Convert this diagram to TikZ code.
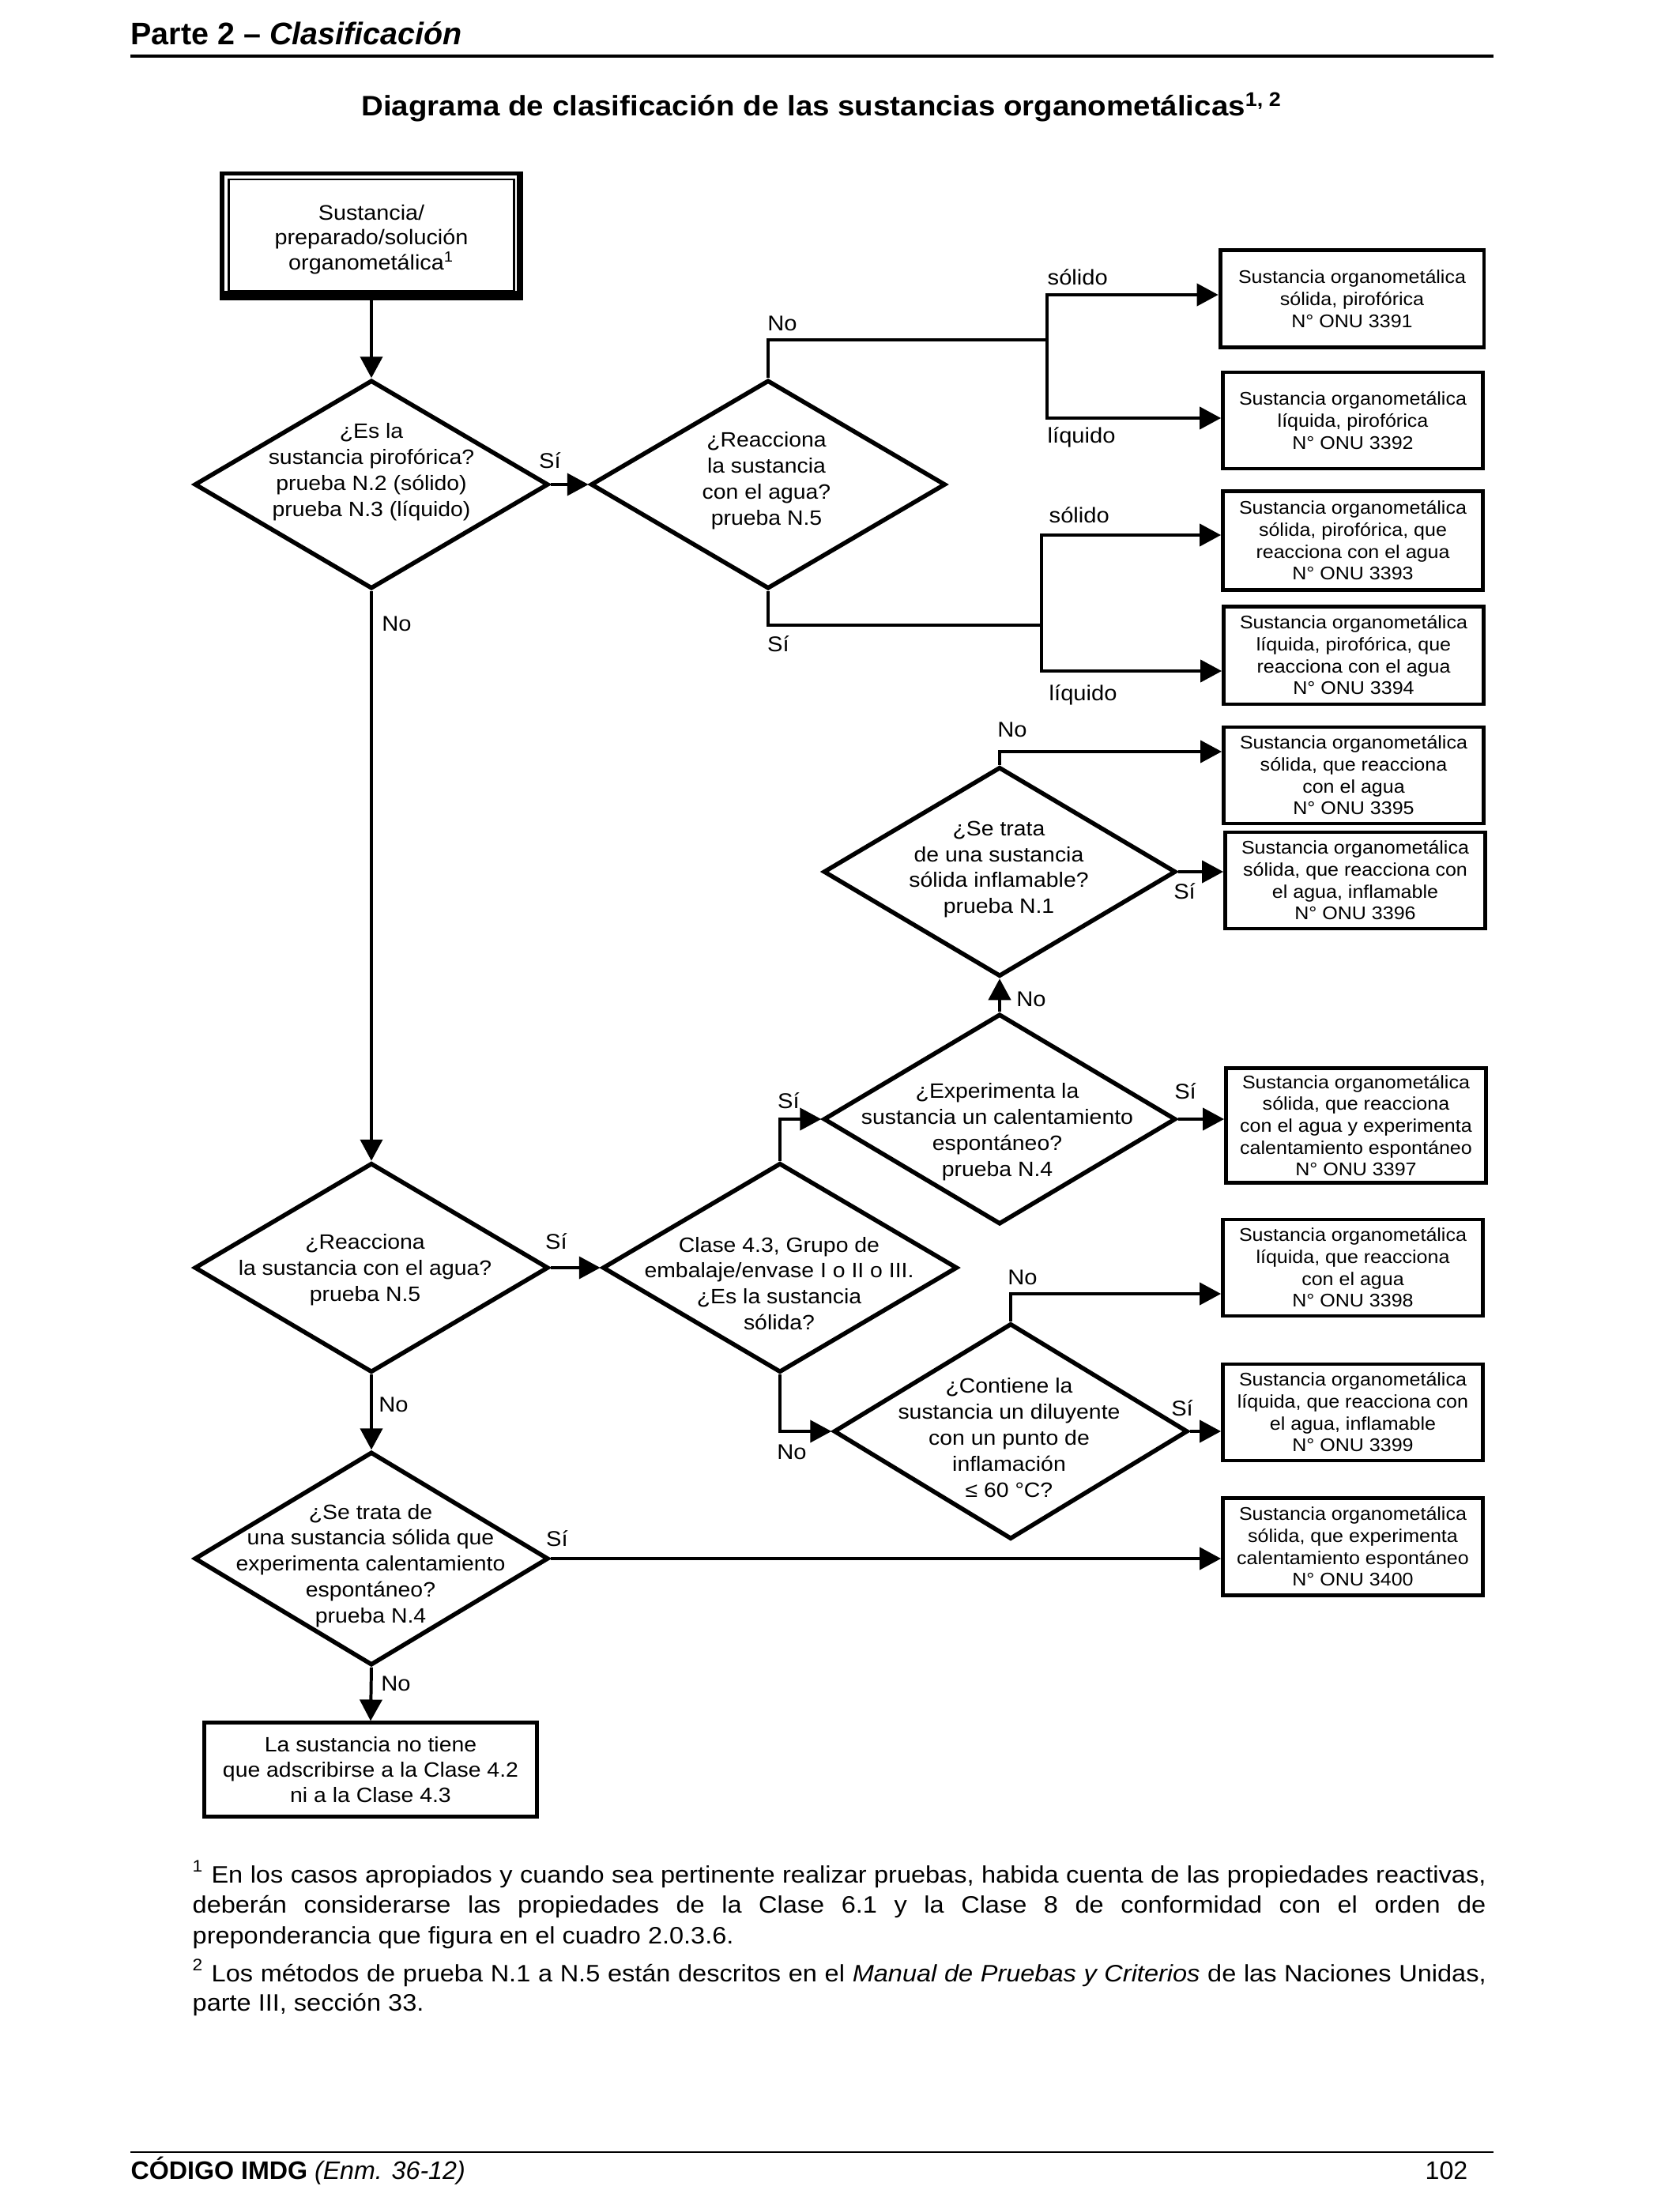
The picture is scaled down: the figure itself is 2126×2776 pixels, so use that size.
\documentclass[tikz,border=0pt]{standalone}
\usepackage{fontspec}
\setmainfont[FakeStretch=1.08]{Liberation Sans}
\newfontfamily\plainfont{Liberation Sans}
\usetikzlibrary{arrows.meta,shapes.geometric}
\tikzset{
  conn/.style={line width=1.15pt},
  arr/.style={line width=1.15pt,-{Triangle[length=7.8pt,width=8.1pt]}},
  dia/.style={diamond,draw,line width=1.6pt,inner sep=0pt,minimum width=129.5pt,minimum height=76.3pt},
  dtext/.style={align=center,inner sep=0pt,font=\fontsize{7.6}{9.5}\selectfont},
  onu/.style={rectangle,draw,line width=1.4pt,inner sep=0pt,align=center,minimum width=95.1pt,minimum height=35.3pt,font=\fontsize{6.7}{8.0}\selectfont},
  lbl/.style={inner sep=0pt,font=\fontsize{7.8}{9}\selectfont,text height=5.6pt,text depth=0pt},
  fnline/.style={anchor=base west,inner sep=0pt,font=\fontsize{8.7}{10.7}\selectfont},
}
\begin{document}
\begin{tikzpicture}[x=0.28908pt,y=-0.28908pt]
\useasboundingbox (0,0) rectangle (2126,2776);

% header
\node[anchor=base west,inner sep=0pt,font=\plainfont\fontsize{11.4}{13}\selectfont\bfseries] (hdr) at (165,56.7) {Parte 2 – \textit{Clasificación}};
\draw[line width=1pt] (165,71) -- (1890,71);
\node[anchor=base,inner sep=0pt,font=\fontsize{10.3}{12}\selectfont\bfseries] (title) at (1040,146.7) {Diagrama de clasificación de las sustancias organometálicas\textsuperscript{1, 2}};

% start box
\node[rectangle,minimum width=110.72pt,minimum height=47.12pt,inner sep=0pt,outer sep=0pt] (start) at (470,298.5) {};
\node[align=center,inner sep=0pt,font=\fontsize{7.7}{9}\selectfont] (starttext) at (470,303) {Sustancia/\\preparado/solución\\organometálica\textsuperscript{1}};
\draw[line width=1.45pt] ([shift={(2.5,2.5)}]start.north west) rectangle ([shift={(-2.5,-2.5)}]start.south east);
\draw[line width=0.85pt] ([shift={(11,10)}]start.north west) rectangle ([shift={(-11,-12)}]start.south east);
\fill ([shift={(0,-12)}]start.south west) rectangle (start.south east);
\fill ([shift={(-8,0)}]start.north east) rectangle (start.south east);

% diamonds
\node[dia] (d1) at (470,613) {};
\node[dtext] (t1) at (470,597) {¿Es la\\sustancia pirofórica?\\prueba N.2 (sólido)\\prueba N.3 (líquido)};
\node[dia,minimum width=129.8pt] (d2) at (972,613) {};
\node[dtext] (t2) at (970,608) {¿Reacciona\\la sustancia\\con el agua?\\prueba N.5};
\node[dia,minimum height=76.6pt] (d3) at (470,1604) {};
\node[dtext] (t3) at (462,1607) {¿Reacciona\\la sustancia con el agua?\\prueba N.5};
\node[dia,minimum width=129.8pt,minimum height=76.6pt] (d4) at (987,1604) {};
\node[dtext] (t4) at (986,1624) {Clase 4.3, Grupo de\\embalaje/envase I o II o III.\\¿Es la sustancia\\sólida?};
\node[dia,minimum width=128.9pt,minimum height=76.9pt] (d5) at (1265,1416) {};
\node[dtext] (t5) at (1262,1432) {¿Experimenta la\\sustancia un calentamiento\\espontáneo?\\prueba N.4};
\node[dia,minimum width=128.9pt,minimum height=76.6pt] (d6) at (1265,1103) {};
\node[dtext] (t6) at (1264,1100) {¿Se trata\\de una sustancia\\sólida inflamable?\\prueba N.1};
\node[dia,minimum height=78.9pt] (d7) at (1279,1811) {};
\node[dtext] (t7) at (1277,1819) {¿Contiene la\\sustancia un diluyente\\con un punto de\\inflamación\\≤ 60 °C?};
\node[dia,minimum height=78pt] (d8) at (470,1972) {};
\node[dtext] (t8) at (469,1981) {¿Se trata de\\una sustancia sólida que\\experimenta calentamiento\\espontáneo?\\prueba N.4};

% result boxes
\node[onu,minimum width=96.5pt,minimum height=35.6pt] (b3391) at (1711,378) {Sustancia organometálica\\sólida, pirofórica\\N° ONU 3391};
\node[onu] (b3392) at (1712,532) {Sustancia organometálica\\líquida, pirofórica\\N° ONU 3392};
\node[onu,minimum height=36.1pt] (b3393) at (1712,684) {Sustancia organometálica\\sólida, pirofórica, que\\reacciona con el agua\\N° ONU 3393};
\node[onu,minimum height=35.8pt] (b3394) at (1713,829) {Sustancia organometálica\\líquida, pirofórica, que\\reacciona con el agua\\N° ONU 3394};
\node[onu] (b3395) at (1713,981) {Sustancia organometálica\\sólida, que reacciona\\con el agua\\N° ONU 3395};
\node[onu] (b3396) at (1715,1114) {Sustancia organometálica\\sólida, que reacciona con\\el agua, inflamable\\N° ONU 3396};
\node[onu,minimum height=41.9pt] (b3397) at (1716,1424) {Sustancia organometálica\\sólida, que reacciona\\con el agua y experimenta\\calentamiento espontáneo\\N° ONU 3397};
\node[onu] (b3398) at (1712,1604) {Sustancia organometálica\\líquida, que reacciona\\con el agua\\N° ONU 3398};
\node[onu] (b3399) at (1712,1787) {Sustancia organometálica\\líquida, que reacciona con\\el agua, inflamable\\N° ONU 3399};
\node[onu,minimum height=35.6pt] (b3400) at (1712,1957) {Sustancia organometálica\\sólida, que experimenta\\calentamiento espontáneo\\N° ONU 3400};
\node[rectangle,draw,line width=1.2pt,inner sep=0pt,align=center,minimum width=121.7pt,minimum height=34.4pt,font=\fontsize{7.6}{9.25}\selectfont] (fin) at (469,2239) {La sustancia no tiene\\que adscribirse a la Clase 4.2\\ni a la Clase 4.3};

% connectors
\draw[arr] (start.south) -- (d1.north);
\draw[arr] (d1.east) -- (d2.west);
\coordinate (j1) at (1325,430);
\coordinate (j1a) at (1325,373);
\coordinate (j1b) at (1325,529);
\draw[conn] (d2.north) |- (j1);
\draw[arr] (j1) -- (j1a) -- (b3391.west |- j1a);
\draw[arr] (j1) -- (j1b) -- (b3392.west |- j1b);
\coordinate (j2) at (1318,791);
\coordinate (j2a) at (1318,677);
\coordinate (j2b) at (1318,849);
\draw[conn] (d2.south) |- (j2);
\draw[arr] (j2) -- (j2a) -- (b3393.west |- j2a);
\draw[arr] (j2) -- (j2b) -- (b3394.west |- j2b);
\draw[arr] (d1.south) -- (d3.north);
\draw[arr] (d3.east) -- (d4.west);
\draw[arr] (d4.north) |- (d5.west);
\draw[arr] (d5.east) -- (b3397.west |- d5.east);
\draw[arr] (d5.north) -- (d6.south);
\coordinate (j3) at (1265,951);
\draw[arr] (d6.north) -- (j3) -- (b3395.west |- j3);
\draw[arr] (d6.east) -- (b3396.west |- d6.east);
\draw[arr] (d4.south) |- (d7.west);
\coordinate (j4) at (1279,1637);
\draw[arr] (d7.north) -- (j4) -- (b3398.west |- j4);
\draw[arr] (d7.east) -- (b3399.west |- d7.east);
\draw[arr] (d3.south) -- (d8.north);
\draw[arr] (d8.east) -- (b3400.west |- d8.east);
\draw[arr] (d8.south) -- (fin.north);

% labels
\node[lbl] (l1) at (696,583) {Sí};
\node[lbl] (l2) at (990,409) {No};
\node[lbl,anchor=west] (l3) at (1325,351) {sólido};
\node[lbl,anchor=west] (l4) at (1325,551) {líquido};
\node[lbl] (l5) at (985,815) {Sí};
\node[lbl,anchor=west] (l6) at (1327,652) {sólido};
\node[lbl,anchor=west] (l7) at (1327,877) {líquido};
\node[lbl] (l8) at (502,789) {No};
\node[lbl] (l9) at (1281,923) {No};
\node[lbl] (l10) at (1499,1128) {Sí};
\node[lbl] (l11) at (1305,1264) {No};
\node[lbl] (l12) at (998,1393) {Sí};
\node[lbl] (l13) at (1500,1381) {Sí};
\node[lbl] (l14) at (704,1571) {Sí};
\node[lbl] (l15) at (1294,1616) {No};
\node[lbl] (l16) at (1496,1782) {Sí};
\node[lbl] (l17) at (1002,1837) {No};
\node[lbl] (l18) at (498,1777) {No};
\node[lbl] (l19) at (705,1947) {Sí};
\node[lbl] (l20) at (501,2130) {No};

% footnotes
\node[fnline] (fn1a) at (243,2382) {\makebox[473.2pt][s]{\textsuperscript{1} En los casos apropiados y cuando sea pertinente realizar pruebas, habida cuenta de las propiedades reactivas,}};
\node[fnline] (fn1b) at (243,2420) {\makebox[473.2pt][s]{deberán considerarse las propiedades de la Clase 6.1 y la Clase 8 de conformidad con el orden de}};
\node[fnline] (fn1c) at (243,2459) {preponderancia que figura en el cuadro 2.0.3.6.};
\node[fnline] (fn2a) at (243,2507) {\makebox[473.2pt][s]{\textsuperscript{2} Los métodos de prueba N.1 a N.5 están descritos en el \textit{Manual de Pruebas y Criterios} de las Naciones Unidas,}};
\node[fnline] (fn2b) at (243,2544) {parte III, sección 33.};

% footer
\draw[line width=0.8pt] (165,2723) -- (1890,2723);
\node[anchor=base west,inner sep=0pt,font=\plainfont\fontsize{9.3}{11}\selectfont] (ftl) at (165,2757) {\textbf{CÓDIGO IMDG} \textit{(Enm. 36-12)}};
\node[anchor=base east,inner sep=0pt,font=\plainfont\fontsize{9.3}{11}\selectfont] (ftr) at (1858,2757) {102};
\end{tikzpicture}
\end{document}
